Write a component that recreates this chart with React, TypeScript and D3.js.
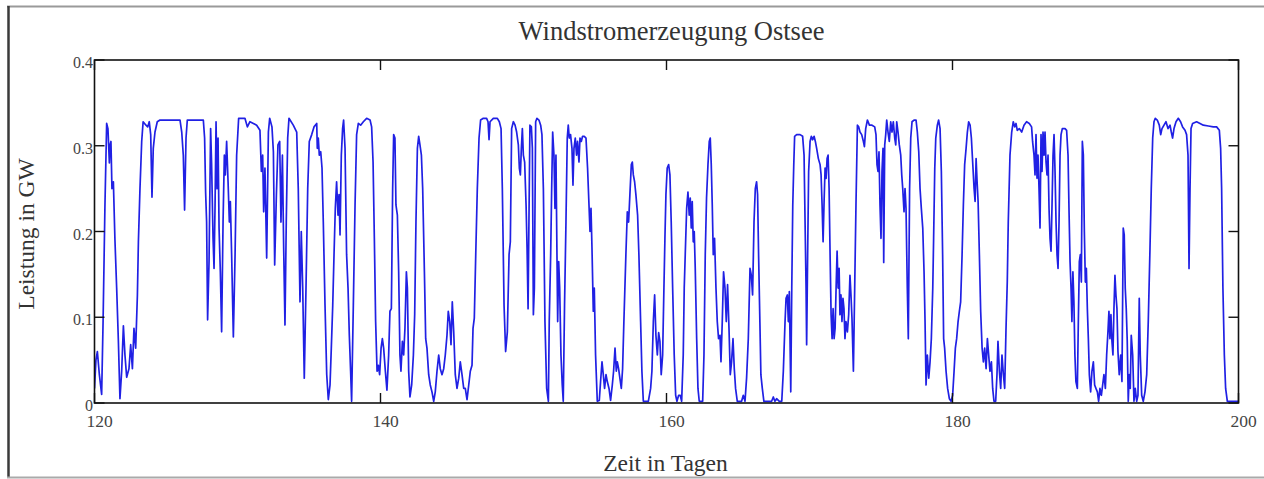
import React from 'react';
import * as d3 from 'd3';

const title = 'Windstromerzeugung Ostsee';
const xLabel = 'Zeit in Tagen';
const yLabel = 'Leistung in GW';
const xTicks = [120, 140, 160, 180, 200];
const yTicks = [0, 0.1, 0.2, 0.3, 0.4];
const yTickLabels = ['0', '0.1', '0.2', '0.3', '0.4'];
const xDomain: [number, number] = [120, 200];
const yDomain: [number, number] = [0, 0.4];

// [Tag, Leistung in GW]
const teil1: [number, number][] = [
  [120.0, 0.017], [120.1, 0.05], [120.2, 0.06], [120.34, 0.033], [120.5, 0.01], [120.6, 0.095], [120.73, 0.23], [120.85, 0.326], [120.94, 0.32], [121.04, 0.28], [121.08, 0.3], [121.15, 0.305], [121.22, 0.25], [121.32, 0.258], [121.43, 0.19], [121.55, 0.134], [121.67, 0.072], [121.78, 0.005], [121.9, 0.037], [122.02, 0.09], [122.13, 0.056], [122.25, 0.03], [122.41, 0.04], [122.53, 0.068], [122.65, 0.04], [122.76, 0.087], [122.88, 0.064], [123.0, 0.126], [123.07, 0.188], [123.18, 0.25], [123.3, 0.305], [123.4, 0.328], [123.6, 0.324], [123.72, 0.322], [123.83, 0.328], [123.93, 0.313], [124.02, 0.24], [124.11, 0.297], [124.23, 0.316], [124.39, 0.328], [124.58, 0.33], [125.98, 0.33], [126.1, 0.316], [126.21, 0.289], [126.3, 0.225], [126.4, 0.309], [126.49, 0.33], [127.61, 0.33], [127.7, 0.309], [127.77, 0.246], [127.84, 0.211], [127.91, 0.097], [128.01, 0.165], [128.12, 0.32], [128.19, 0.278], [128.29, 0.192], [128.36, 0.157], [128.43, 0.23], [128.5, 0.328], [128.57, 0.25], [128.64, 0.309], [128.71, 0.204], [128.8, 0.153], [128.89, 0.083], [128.99, 0.211], [129.08, 0.289], [129.15, 0.266], [129.24, 0.305], [129.34, 0.258], [129.43, 0.211], [129.5, 0.235], [129.59, 0.173], [129.71, 0.077], [129.83, 0.173], [129.94, 0.289], [130.08, 0.332], [130.52, 0.332], [130.69, 0.322], [130.87, 0.328], [131.11, 0.326], [131.34, 0.324], [131.57, 0.318], [131.67, 0.27], [131.76, 0.289], [131.83, 0.223], [131.92, 0.274], [132.04, 0.169], [132.16, 0.316], [132.25, 0.332], [132.41, 0.322], [132.51, 0.293], [132.6, 0.161], [132.72, 0.243], [132.83, 0.301], [132.95, 0.305], [133.04, 0.211], [133.14, 0.289], [133.23, 0.18], [133.32, 0.091], [133.41, 0.211], [133.51, 0.309], [133.6, 0.332], [133.9, 0.324], [134.14, 0.316], [134.25, 0.25], [134.37, 0.118], [134.46, 0.2], [134.56, 0.134], [134.67, 0.029], [134.79, 0.134], [134.91, 0.25], [135.02, 0.305], [135.19, 0.313], [135.35, 0.322], [135.54, 0.326],
];

const teil2: [number, number][] = [
  [135.58, 0.297], [135.65, 0.309], [135.72, 0.289], [135.82, 0.293], [135.91, 0.274], [136.0, 0.211], [136.12, 0.114], [136.24, 0.033], [136.35, 0.004], [136.47, 0.021], [136.56, 0.064], [136.66, 0.114], [136.75, 0.173], [136.84, 0.227], [136.93, 0.258], [137.03, 0.219], [137.1, 0.243], [137.17, 0.196], [137.26, 0.289], [137.35, 0.32], [137.42, 0.33], [137.52, 0.297], [137.63, 0.173], [137.73, 0.134], [137.82, 0.079], [137.91, 0.037], [137.98, 0.002], [138.1, 0.114], [138.22, 0.231], [138.33, 0.313], [138.45, 0.326], [138.61, 0.324], [138.8, 0.328], [139.03, 0.332], [139.27, 0.33], [139.38, 0.322], [139.48, 0.281], [139.57, 0.192], [139.66, 0.095], [139.76, 0.037], [139.85, 0.044], [139.94, 0.033], [140.04, 0.064], [140.13, 0.075], [140.22, 0.064], [140.34, 0.037], [140.45, 0.015], [140.57, 0.056], [140.66, 0.107], [140.76, 0.11], [140.85, 0.25], [140.92, 0.313], [141.01, 0.309], [141.08, 0.231], [141.18, 0.219], [141.27, 0.153], [141.36, 0.056], [141.43, 0.037], [141.53, 0.072], [141.62, 0.056], [141.71, 0.087], [141.81, 0.153], [141.88, 0.134], [141.97, 0.037], [142.06, 0.007], [142.18, 0.021], [142.3, 0.056], [142.39, 0.103], [142.48, 0.211], [142.58, 0.297], [142.67, 0.311], [142.76, 0.301], [142.86, 0.289], [142.95, 0.25], [143.07, 0.153], [143.16, 0.075], [143.25, 0.064], [143.37, 0.033], [143.48, 0.021], [143.6, 0.013], [143.72, 0.002], [143.83, 0.013], [143.95, 0.037], [144.07, 0.056], [144.18, 0.04], [144.3, 0.033], [144.42, 0.04], [144.53, 0.056], [144.65, 0.079], [144.74, 0.107], [144.84, 0.095], [144.93, 0.068], [145.02, 0.118], [145.12, 0.083], [145.23, 0.033], [145.35, 0.017], [145.47, 0.029], [145.58, 0.048], [145.7, 0.033], [145.82, 0.017], [145.93, 0.017], [146.05, 0.004], [146.17, 0.021], [146.28, 0.037], [146.4, 0.044], [146.47, 0.087], [146.56, 0.099], [146.66, 0.173], [146.77, 0.25], [146.89, 0.309], [147.0, 0.33], [147.19, 0.332], [147.42, 0.332], [147.52, 0.328], [147.59, 0.307], [147.66, 0.328], [147.89, 0.332], [148.17, 0.332], [148.31, 0.328], [148.43, 0.32], [148.52, 0.25], [148.64, 0.114], [148.75, 0.06], [148.87, 0.083], [148.99, 0.173], [149.08, 0.188], [149.17, 0.32], [149.29, 0.328], [149.41, 0.324], [149.52, 0.316], [149.64, 0.301], [149.71, 0.274], [149.78, 0.266], [149.85, 0.297], [149.92, 0.32], [149.99, 0.289], [150.08, 0.281], [150.18, 0.231], [150.25, 0.18], [150.32, 0.11], [150.38, 0.211], [150.45, 0.324], [150.55, 0.322], [150.62, 0.297], [150.69, 0.103], [150.76, 0.134], [150.85, 0.328], [150.94, 0.332], [151.08, 0.33], [151.2, 0.324], [151.29, 0.313], [151.39, 0.25], [151.5, 0.095], [151.62, 0.017], [151.74, 0.002],
];

const teil3: [number, number][] = [
  [151.8, 0.095], [151.9, 0.173], [151.97, 0.25], [152.04, 0.316], [152.13, 0.289], [152.2, 0.227], [152.27, 0.289], [152.34, 0.173], [152.39, 0.095], [152.46, 0.165], [152.53, 0.134], [152.62, 0.056], [152.71, 0.021], [152.78, 0.002], [152.87, 0.114], [152.97, 0.211], [153.06, 0.309], [153.13, 0.324], [153.2, 0.309], [153.29, 0.313], [153.39, 0.297], [153.46, 0.254], [153.53, 0.297], [153.62, 0.309], [153.71, 0.289], [153.78, 0.305], [153.88, 0.281], [153.95, 0.309], [154.04, 0.305], [154.13, 0.311], [154.25, 0.311], [154.37, 0.309], [154.48, 0.274], [154.58, 0.231], [154.65, 0.2], [154.72, 0.227], [154.79, 0.18], [154.88, 0.107], [154.95, 0.134], [155.04, 0.056], [155.16, 0.002], [155.3, 0.003], [155.39, 0.025], [155.49, 0.048], [155.58, 0.033], [155.67, 0.017], [155.77, 0.033], [155.86, 0.025], [155.98, 0.017], [156.09, 0.003], [156.21, 0.021], [156.3, 0.037], [156.4, 0.064], [156.49, 0.037], [156.56, 0.048], [156.65, 0.04], [156.74, 0.029], [156.84, 0.017], [156.93, 0.04], [157.02, 0.095], [157.09, 0.134], [157.16, 0.173], [157.26, 0.223], [157.35, 0.211], [157.44, 0.243], [157.54, 0.278], [157.61, 0.281], [157.68, 0.266], [157.77, 0.258], [157.86, 0.243], [157.98, 0.219], [158.07, 0.173], [158.19, 0.095], [158.28, 0.037], [158.38, 0.002], [158.73, 0.002], [158.89, 0.017], [158.98, 0.037], [159.08, 0.095], [159.17, 0.126], [159.26, 0.079], [159.36, 0.056], [159.45, 0.082], [159.54, 0.072], [159.63, 0.033], [159.73, 0.056], [159.82, 0.134], [159.89, 0.192], [159.96, 0.243], [160.05, 0.274], [160.15, 0.278], [160.24, 0.266], [160.33, 0.211], [160.43, 0.134], [160.54, 0.056], [160.64, 0.009], [160.73, 0.002], [160.85, 0.009], [160.96, 0.009], [161.06, 0.002], [161.17, 0.056], [161.24, 0.134], [161.31, 0.173], [161.41, 0.227], [161.5, 0.246], [161.59, 0.219], [161.66, 0.239], [161.73, 0.204], [161.8, 0.235], [161.87, 0.188], [161.94, 0.2], [162.01, 0.157], [162.11, 0.075], [162.2, 0.017], [162.29, 0.002], [162.53, 0.002], [162.62, 0.056], [162.71, 0.173], [162.8, 0.239], [162.9, 0.278], [162.99, 0.305], [163.06, 0.309], [163.13, 0.278], [163.2, 0.231], [163.27, 0.173], [163.36, 0.192], [163.46, 0.134], [163.55, 0.095], [163.64, 0.075], [163.74, 0.079], [163.81, 0.048], [163.9, 0.095], [163.99, 0.153], [164.09, 0.134], [164.18, 0.095], [164.27, 0.138], [164.37, 0.087], [164.46, 0.033], [164.55, 0.048], [164.65, 0.075], [164.74, 0.04], [164.83, 0.017], [164.95, 0.002], [165.25, 0.002], [165.37, 0.009], [165.49, 0.002], [165.6, 0.029], [165.72, 0.075], [165.84, 0.157], [165.93, 0.149], [166.02, 0.126], [166.12, 0.211], [166.21, 0.25], [166.3, 0.258], [166.37, 0.243], [166.44, 0.173], [166.53, 0.095], [166.6, 0.033], [166.7, 0.017], [166.81, 0.002], [167.35, 0.002], [167.47, 0.007], [167.58, 0.002], [167.7, 0.005], [167.89, 0.002],
];

const teil4: [number, number][] = [
  [168.06, 0.002], [168.17, 0.037], [168.29, 0.095], [168.36, 0.122], [168.45, 0.126], [168.52, 0.095], [168.59, 0.13], [168.69, 0.013], [168.76, 0.134], [168.83, 0.231], [168.9, 0.278], [168.96, 0.311], [169.1, 0.313], [169.34, 0.313], [169.52, 0.311], [169.62, 0.289], [169.69, 0.211], [169.76, 0.134], [169.8, 0.068], [169.87, 0.173], [169.94, 0.27], [170.04, 0.305], [170.13, 0.311], [170.22, 0.307], [170.32, 0.311], [170.41, 0.305], [170.5, 0.297], [170.62, 0.285], [170.74, 0.278], [170.81, 0.266], [170.88, 0.231], [170.95, 0.188], [171.02, 0.235], [171.09, 0.274], [171.16, 0.262], [171.23, 0.285], [171.3, 0.289], [171.37, 0.25], [171.44, 0.173], [171.51, 0.103], [171.58, 0.075], [171.65, 0.11], [171.72, 0.075], [171.79, 0.087], [171.86, 0.134], [171.93, 0.177], [172.0, 0.134], [172.07, 0.157], [172.13, 0.103], [172.2, 0.126], [172.27, 0.095], [172.34, 0.122], [172.41, 0.11], [172.48, 0.075], [172.55, 0.095], [172.65, 0.083], [172.74, 0.103], [172.83, 0.149], [172.9, 0.126], [172.97, 0.099], [173.07, 0.037], [173.16, 0.134], [173.25, 0.231], [173.35, 0.324], [173.44, 0.322], [173.53, 0.316], [173.65, 0.313], [173.77, 0.305], [173.84, 0.299], [173.93, 0.32], [174.05, 0.33], [174.19, 0.324], [174.37, 0.324], [174.56, 0.322], [174.65, 0.313], [174.72, 0.278], [174.79, 0.27], [174.86, 0.293], [174.93, 0.231], [175.0, 0.192], [175.07, 0.27], [175.14, 0.297], [175.19, 0.164], [175.26, 0.301], [175.33, 0.313], [175.4, 0.33], [175.49, 0.316], [175.58, 0.305], [175.68, 0.328], [175.77, 0.316], [175.86, 0.328], [175.96, 0.309], [176.03, 0.301], [176.1, 0.328], [176.19, 0.316], [176.28, 0.301], [176.38, 0.289], [176.45, 0.266], [176.52, 0.25], [176.61, 0.223], [176.68, 0.25], [176.75, 0.227], [176.84, 0.134], [176.91, 0.075], [177.0, 0.25], [177.08, 0.309], [177.17, 0.328], [177.31, 0.33], [177.45, 0.33], [177.54, 0.316], [177.64, 0.293], [177.73, 0.25], [177.82, 0.227], [177.92, 0.204], [178.01, 0.153], [178.08, 0.095], [178.15, 0.021], [178.24, 0.056], [178.34, 0.029], [178.43, 0.048], [178.52, 0.075], [178.62, 0.134], [178.68, 0.192], [178.76, 0.274], [178.83, 0.309], [178.94, 0.324], [179.03, 0.33], [179.13, 0.32], [179.22, 0.27], [179.31, 0.173], [179.38, 0.075], [179.45, 0.064], [179.55, 0.037], [179.66, 0.017], [179.78, 0.005], [179.9, 0.002], [180.01, 0.009], [180.11, 0.037], [180.2, 0.064], [180.29, 0.075], [180.39, 0.095], [180.48, 0.107], [180.57, 0.118], [180.67, 0.173], [180.76, 0.231], [180.85, 0.278], [180.95, 0.297], [181.04, 0.316], [181.13, 0.328], [181.23, 0.324], [181.32, 0.309], [181.41, 0.281], [181.51, 0.25], [181.58, 0.235], [181.65, 0.285], [181.72, 0.258], [181.79, 0.235], [181.88, 0.173], [181.97, 0.107], [182.07, 0.064], [182.16, 0.048], [182.25, 0.064], [182.35, 0.04], [182.44, 0.075], [182.53, 0.056], [182.62, 0.037], [182.72, 0.048], [182.81, 0.017], [182.9, 0.002], [183.02, 0.002], [183.11, 0.033], [183.18, 0.072], [183.28, 0.037], [183.37, 0.017], [183.46, 0.056], [183.56, 0.033], [183.65, 0.017], [183.74, 0.085],
  [183.83, 0.141], [183.9, 0.211], [184.02, 0.289], [184.14, 0.316], [184.25, 0.328], [184.35, 0.322], [184.44, 0.326], [184.53, 0.318], [184.67, 0.32], [184.84, 0.316], [185.0, 0.324], [185.18, 0.328], [185.37, 0.326], [185.53, 0.322], [185.6, 0.305], [185.7, 0.289], [185.77, 0.266], [185.84, 0.313], [185.91, 0.262], [185.98, 0.289], [186.05, 0.25], [186.12, 0.204], [186.19, 0.313], [186.26, 0.27], [186.33, 0.316], [186.4, 0.289], [186.47, 0.316], [186.54, 0.281], [186.61, 0.266], [186.68, 0.289], [186.75, 0.227], [186.82, 0.192], [186.89, 0.177], [186.96, 0.231], [187.03, 0.289], [187.1, 0.313], [187.17, 0.27], [187.24, 0.211], [187.31, 0.173], [187.38, 0.157], [187.45, 0.211], [187.52, 0.289], [187.59, 0.313], [187.68, 0.32], [187.87, 0.32], [187.98, 0.318], [188.08, 0.289], [188.15, 0.223], [188.22, 0.165], [188.29, 0.134], [188.35, 0.095], [188.42, 0.153], [188.49, 0.118], [188.56, 0.056], [188.63, 0.025], [188.73, 0.017], [188.8, 0.095], [188.87, 0.165], [188.94, 0.173], [189.01, 0.141], [189.08, 0.305], [189.15, 0.289], [189.22, 0.2], [189.29, 0.141], [189.36, 0.157], [189.43, 0.11], [189.5, 0.075], [189.57, 0.033], [189.66, 0.013], [189.75, 0.037], [189.85, 0.048], [189.94, 0.021], [190.03, 0.017], [190.13, 0.013], [190.22, 0.002], [190.31, 0.017], [190.41, 0.009], [190.5, 0.021], [190.59, 0.033], [190.69, 0.017], [190.78, 0.056], [190.87, 0.083], [190.94, 0.107], [191.01, 0.075], [191.08, 0.103], [191.15, 0.072], [191.22, 0.056], [191.29, 0.11], [191.36, 0.149], [191.43, 0.126], [191.5, 0.11], [191.57, 0.06], [191.66, 0.033], [191.76, 0.056], [191.85, 0.025], [191.94, 0.204], [192.01, 0.196], [192.08, 0.134], [192.15, 0.11], [192.22, 0.072], [192.29, 0.002], [192.36, 0.033], [192.43, 0.017], [192.5, 0.079], [192.6, 0.056], [192.69, 0.002], [192.78, 0.017], [192.88, 0.002], [192.97, 0.009], [193.06, 0.122], [193.13, 0.056], [193.23, 0.009], [193.34, 0.002], [193.46, 0.013], [193.58, 0.033], [193.69, 0.095], [193.81, 0.18], [193.9, 0.25], [194.0, 0.309], [194.09, 0.328], [194.18, 0.332], [194.32, 0.33], [194.46, 0.324], [194.56, 0.313], [194.65, 0.32], [194.79, 0.324], [194.93, 0.328], [195.07, 0.32], [195.21, 0.324], [195.3, 0.316], [195.39, 0.309], [195.49, 0.32], [195.63, 0.328], [195.79, 0.332], [195.95, 0.328], [196.09, 0.322], [196.26, 0.318], [196.37, 0.313], [196.47, 0.289], [196.54, 0.157], [196.61, 0.25], [196.68, 0.32], [196.79, 0.326], [197.07, 0.328], [197.31, 0.326], [197.54, 0.324], [197.89, 0.323], [198.24, 0.322], [198.47, 0.322], [198.66, 0.318], [198.75, 0.297], [198.82, 0.25], [198.91, 0.134], [199.01, 0.056], [199.1, 0.017], [199.22, 0.002], [200.0, 0.002],
];

const series: [number, number][] = [...teil1, ...teil2, ...teil3, ...teil4];

const FONT = '"Liberation Serif", "Times New Roman", Times, serif';

export default function App() {
  const W = 1264;
  const H = 479;
  const plot = { left: 94.5, right: 1238.5, top: 60, bottom: 403 };
  const x = d3.scaleLinear().domain(xDomain).range([plot.left, plot.right]);
  const y = d3.scaleLinear().domain(yDomain).range([plot.bottom, plot.top]);
  const line = d3
    .line<[number, number]>()
    .x((d) => x(d[0]))
    .y((d) => y(d[1]));
  const tickLen = 10;
  const cx = (plot.left + plot.right) / 2;

  return (
    <svg
      width={W}
      height={H}
      viewBox={`0 0 ${W} ${H}`}
      style={{ position: 'absolute', left: 0, top: 0, display: 'block', background: '#fff' }}
    >
      <rect x={0} y={0} width={W} height={H} fill="#fff" />
      {/* outer figure frame */}
      <line x1={7} y1={6.5} x2={W} y2={6.5} stroke="#9a9a9a" strokeWidth={2} />
      <line x1={8.5} y1={6} x2={8.5} y2={478} stroke="#3a3a3a" strokeWidth={2.5} />
      <line x1={7} y1={477.5} x2={W} y2={477.5} stroke="#aaaaaa" strokeWidth={2} />

      <text x={cx + 5} y={40} textAnchor="middle" fontFamily={FONT} fontSize={26.5} fill="#333">
        {title}
      </text>

      <defs>
        <clipPath id="plotclip">
          <rect x={plot.left} y={plot.top - 2} width={plot.right - plot.left} height={plot.bottom - plot.top + 4} />
        </clipPath>
      </defs>

      <path
        d={line(series) || ''}
        fill="none"
        stroke="#2020e4"
        strokeWidth={1.7}
        strokeLinejoin="round"
        clipPath="url(#plotclip)"
      />

      {/* axes box */}
      <rect
        x={plot.left}
        y={plot.top}
        width={plot.right - plot.left}
        height={plot.bottom - plot.top}
        fill="none"
        stroke="#111"
        strokeWidth={1.6}
      />

      {xTicks.map((t) => (
        <g key={'xt' + t}>
          <line x1={x(t)} x2={x(t)} y1={plot.bottom} y2={plot.bottom - tickLen} stroke="#111" strokeWidth={1.4} />
          <line x1={x(t)} x2={x(t)} y1={plot.top} y2={plot.top + tickLen} stroke="#111" strokeWidth={1.4} />
          <text x={x(t) + 5} y={427} textAnchor="middle" fontFamily={FONT} fontSize={17.5} fill="#444">
            {t}
          </text>
        </g>
      ))}

      {yTicks.map((t, i) => (
        <g key={'yt' + t}>
          <line x1={plot.left} x2={plot.left + tickLen} y1={y(t)} y2={y(t)} stroke="#111" strokeWidth={1.4} />
          <line x1={plot.right} x2={plot.right - tickLen} y1={y(t)} y2={y(t)} stroke="#111" strokeWidth={1.4} />
          <text x={93} y={y(t) + 8} textAnchor="end" fontFamily={FONT} fontSize={16} fill="#444">
            {yTickLabels[i]}
          </text>
        </g>
      ))}

      <text x={cx - 1} y={471} textAnchor="middle" fontFamily={FONT} fontSize={23.5} fill="#333">
        {xLabel}
      </text>
      <text
        transform={`translate(33.5, 234) rotate(-90)`}
        textAnchor="middle"
        fontFamily={FONT}
        fontSize={23.5}
        fill="#333"
      >
        {yLabel}
      </text>
    </svg>
  );
}
